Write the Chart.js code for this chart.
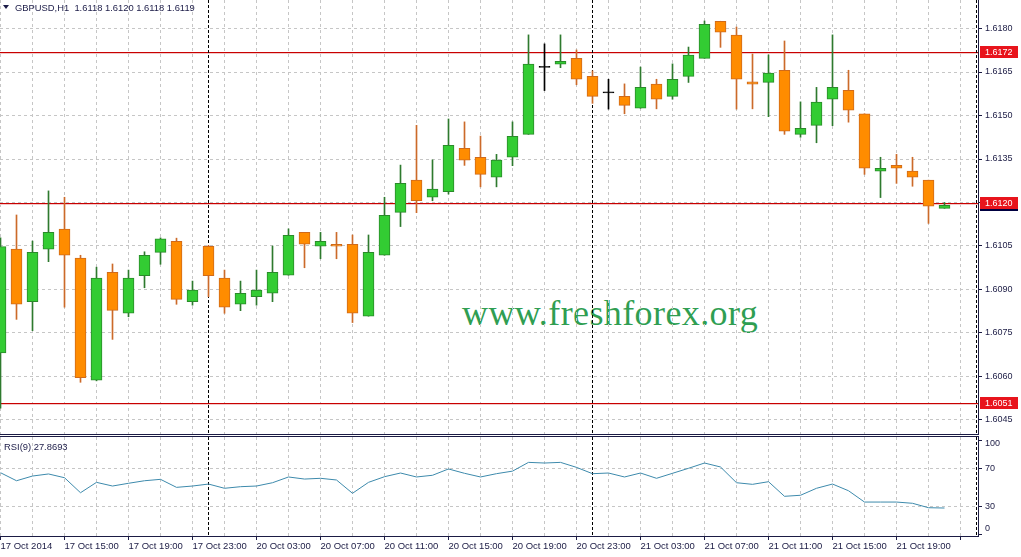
<!DOCTYPE html>
<html>
<head>
<meta charset="utf-8">
<script src="https://cdn.jsdelivr.net/npm/chart.js@4.4.0/dist/chart.umd.min.js"></script>
<style>
html,body{margin:0;padding:0;background:#fff;}
#wrap{position:relative;width:1021px;height:557px;overflow:hidden;background:#fff;}
canvas{position:absolute;left:0;z-index:1;}
#c1{top:0;}
#c2{top:436px;}
.lbl{position:absolute;z-index:2;font-family:"Liberation Sans",Arial,sans-serif;font-size:9.4px;line-height:9px;color:#1c1c48;white-space:nowrap;}
#tri{position:absolute;z-index:2;left:3px;top:5px;width:0;height:0;border-left:3px solid transparent;border-right:3px solid transparent;border-top:4px solid #1c1c48;}
#wm{position:absolute;z-index:0;left:462px;top:295px;font-family:"Liberation Serif","Times New Roman",serif;font-size:36px;line-height:36px;letter-spacing:0.4px;color:#2f9e52;white-space:nowrap;}
</style>
</head>
<body>
<div id="wrap">
  <div id="wm">www.freshforex.org</div>
  <canvas id="c1" width="1021" height="435"></canvas>
  <canvas id="c2" width="1021" height="121"></canvas>
  <div id="tri"></div>
  <div class="lbl" style="left:15px;top:3px;">GBPUSD,H1&nbsp; 1.6118 1.6120 1.6118 1.6119</div>
  <div class="lbl" style="left:4px;top:442px;">RSI(9) 27.8693</div>
</div>
<script>
// ---------- data ----------
const tickLabels = ["17 Oct 2014","17 Oct 15:00","17 Oct 19:00","17 Oct 23:00","20 Oct 03:00","20 Oct 07:00","20 Oct 11:00","20 Oct 15:00","20 Oct 19:00","20 Oct 23:00","21 Oct 03:00","21 Oct 07:00","21 Oct 11:00","21 Oct 15:00","21 Oct 19:00"];
const opens  = [1.60681,1.61039,1.60858,1.61039,1.61108,1.61008,1.60587,1.60959,1.60818,1.60948,1.61028,1.61066,1.60858,1.61049,1.60939,1.60849,1.60875,1.60887,1.60949,1.61097,1.61049,1.61056,1.61056,1.60808,1.61018,1.61166,1.61277,1.61218,1.61237,1.61387,1.61356,1.61287,1.61356,1.61435,1.61666,1.61677,1.61697,1.61635,1.61578,1.61566,1.61525,1.61608,1.61566,1.61635,1.61697,1.61825,1.61777,1.61616,1.61614,1.61656,1.61435,1.61466,1.61556,1.61587,1.61506,1.61308,1.61328,1.61308,1.61277,1.61180];
const highs  = [1.61078,1.61157,1.61067,1.61240,1.61218,1.61018,1.60977,1.60988,1.60967,1.61030,1.61078,1.61077,1.60929,1.61052,1.60967,1.60929,1.60967,1.61050,1.61109,1.61097,1.61097,1.61097,1.61088,1.61088,1.61218,1.61329,1.61466,1.61347,1.61488,1.61478,1.61429,1.61366,1.61478,1.61778,1.61747,1.61778,1.61726,1.61654,1.61625,1.61609,1.61667,1.61625,1.61678,1.61736,1.61826,1.61825,1.61805,1.61712,1.61709,1.61757,1.61547,1.61597,1.61778,1.61656,1.61506,1.61356,1.61366,1.61356,1.61277,1.61200];
const lows   = [1.60491,1.60797,1.60758,1.60996,1.60839,1.60580,1.60585,1.60728,1.60806,1.60906,1.60987,1.60849,1.60846,1.60875,1.60818,1.60827,1.60846,1.60858,1.60949,1.60975,1.61006,1.61006,1.60786,1.60808,1.61018,1.61117,1.61165,1.61206,1.61229,1.61328,1.61254,1.61254,1.61327,1.61435,1.61586,1.61665,1.61606,1.61542,1.61522,1.61506,1.61525,1.61523,1.61556,1.61614,1.61697,1.61735,1.61522,1.61523,1.61496,1.61435,1.61425,1.61406,1.61465,1.61477,1.61297,1.61217,1.61266,1.61256,1.61128,1.61180];
const closes = [1.61048,1.60849,1.61028,1.61097,1.61018,1.60596,1.60939,1.60828,1.60939,1.61018,1.61075,1.60866,1.60898,1.60948,1.60839,1.60887,1.60898,1.60959,1.61087,1.61056,1.61066,1.61049,1.60818,1.61028,1.61156,1.61266,1.61206,1.61246,1.61397,1.61346,1.61297,1.61346,1.61428,1.61677,1.61666,1.61687,1.61625,1.61566,1.61578,1.61535,1.61597,1.61556,1.61625,1.61708,1.61814,1.61787,1.61625,1.61608,1.61646,1.61446,1.61456,1.61546,1.61597,1.61518,1.61318,1.61318,1.61318,1.61287,1.61187,1.61190];
const rsi    = [65.3,56.8,61.8,64.0,60.0,44.1,55.1,51.2,54.1,56.8,58.3,49.8,51.2,53.3,48.8,50.5,51.2,54.7,60.8,58.6,59.4,57.6,43.5,55.1,61.1,65.0,60.8,62.6,69.3,64.7,60.8,64.3,67.0,76.3,75.6,76.3,71.0,64.3,65.0,60.8,65.0,59.4,64.7,70.0,75.6,71.4,54.7,53.0,55.8,40.3,41.4,48.8,53.3,46.2,34.2,34.2,34.2,32.9,28.2,27.87];
const priceTicks = [1.6045,1.6060,1.6075,1.6090,1.6105,1.6120,1.6135,1.6150,1.6165,1.6180];
const rsiTicks = [0,30,70,100];
const levels = [1.6172,1.6120,1.6051];
const separators = [13,37];
const lastPrice = 1.6119;

// ---------- style ----------
const FONT_FAMILY = '"Liberation Sans", Arial, sans-serif';
const AXIS = '#1b1b44';
const GRID = '#c6c6c6';
const X_MIN = -0.03125, X_MAX = X_MIN + 978/16;
const Y_MIN = 1.6040172, Y_MAX = 1.6189828;

const dir = closes.map((c,i)=> c>opens[i] ? 1 : (c<opens[i] ? -1 : 0));
const bodyFill   = dir.map(d=> d>0 ? '#33cc33' : d<0 ? '#ff8c00' : '#000000');
const bodyBorder = dir.map(d=> d>0 ? '#2a8a2a' : d<0 ? '#d06a1a' : '#000000');
const wickColor  = dir.map(d=> d>0 ? '#2e7a2e' : d<0 ? '#cc6a2a' : '#000000');

const fixY = w => s => { s.width = w; s.paddingTop = 0; s.paddingBottom = 0; };
const fixX = h => s => { s.height = h; s.paddingLeft = 0; s.paddingRight = 0; };
const evenTicks = s => { const t=[]; for(let v=0; v<=60; v+=2) t.push({value:v}); s.ticks = t; };

function drawSeparators(chart){
  const {ctx, chartArea:a, scales:{x}} = chart;
  ctx.save();
  ctx.strokeStyle = '#000'; ctx.lineWidth = 1; ctx.setLineDash([3,2]);
  separators.forEach(i=>{
    const px = Math.round(x.getPixelForValue(i)-0.5)+0.5;
    ctx.beginPath(); ctx.moveTo(px,a.top); ctx.lineTo(px,a.bottom); ctx.stroke();
  });
  ctx.beginPath(); ctx.moveTo(a.right-1.5,a.top); ctx.lineTo(a.right-1.5,a.bottom); ctx.stroke();
  ctx.restore();
}

const priceDecor = {
  id:'priceDecor',
  beforeDatasetsDraw(chart){
    const {ctx, chartArea:a, scales:{y}} = chart;
    ctx.save();
    levels.forEach(v=>{
      const py = Math.round(y.getPixelForValue(v));
      ctx.fillStyle = '#f3c8c8'; ctx.fillRect(a.left, py+1, a.right-a.left, 1);
      ctx.fillStyle = '#c80000'; ctx.fillRect(a.left, py, a.right-a.left, 1);
    });
    ctx.restore();
    drawSeparators(chart);
  },
  afterDraw(chart){
    const {ctx, chartArea:a, scales:{y}} = chart;
    ctx.save();
    ctx.fillStyle = AXIS;
    ctx.fillRect(a.right, a.top, 1, a.bottom-a.top+1);
    ctx.fillRect(a.left, a.bottom, a.right-a.left, 1);
    ctx.font = '9px ' + FONT_FAMILY; ctx.textBaseline = 'middle';
    const lp = Math.round(y.getPixelForValue(lastPrice));
    ctx.fillStyle = '#000040'; ctx.fillRect(a.right+2, lp-6, 38, 12);
    ctx.fillStyle = '#fff'; ctx.fillText(lastPrice.toFixed(4), a.right+7, lp);
    levels.forEach(v=>{
      const py = Math.round(y.getPixelForValue(v));
      ctx.fillStyle = '#e8141c'; ctx.fillRect(a.right+2, py-6, 38, 12);
      ctx.fillStyle = '#ffffff'; ctx.fillText(v.toFixed(4), a.right+7, py+0.5);
    });
    ctx.restore();
  }
};

const rsiDecor = {
  id:'rsiDecor',
  beforeDatasetsDraw(chart){ drawSeparators(chart); },
  afterDraw(chart){
    const {ctx, chartArea:a, scales:{y}} = chart;
    ctx.save();
    ctx.fillStyle = AXIS;
    ctx.fillRect(a.left, 0, a.right-a.left+1, 1);
    ctx.fillRect(a.right, 0, 1, a.bottom-a.top+2);
    ctx.fillRect(a.left, a.bottom, a.right-a.left+1, 1);
    // RSI scale labels, kept inside the panel like the terminal does
    ctx.font = '9px ' + FONT_FAMILY; ctx.textBaseline = 'middle'; ctx.textAlign = 'left';
    rsiTicks.forEach(v=>{
      const py = Math.min(Math.max(y.getPixelForValue(v), a.top+7), a.bottom-7);
      ctx.fillText(String(v), a.right+7, py);
    });
    ctx.restore();
  }
};

// ---------- price chart ----------
new Chart(document.getElementById('c1'), {
  type:'bar',
  data:{datasets:[
    {label:'wicks', data: lows.map((l,i)=>({x:i, y:[l, highs[i]]})),
     backgroundColor: wickColor, borderWidth:0, barThickness:1, grouped:false, order:2, minBarLength:1},
    {label:'bodies', data: opens.map((o,i)=>({x:i, y:[o, closes[i]]})),
     backgroundColor: bodyFill, borderColor: bodyBorder, borderWidth:1, borderSkipped:false,
     barThickness:11, grouped:false, order:1, minBarLength:1}
  ]},
  options:{
    responsive:false, animation:false, devicePixelRatio:1,
    layout:{padding:{top:0,left:0,right:0,bottom:1}},
    plugins:{legend:{display:false}, tooltip:{enabled:false}},
    scales:{
      x:{type:'linear', min:X_MIN, max:X_MAX, offset:false,
         afterBuildTicks: evenTicks, afterFit: fixX(0),
         ticks:{display:false},
         grid:{offset:false, color:GRID, lineWidth:1, drawTicks:false},
         border:{display:false, dash:[3,3]}},
      y:{type:'linear', position:'right', min:Y_MIN, max:Y_MAX, beginAtZero:false,
         afterBuildTicks: s => { s.ticks = priceTicks.map(v=>({value:v})); },
         afterFit: fixY(43),
         ticks:{color:AXIS, font:{family:FONT_FAMILY, size:9}, padding:3, callback:v=>Number(v).toFixed(4)},
         grid:{color:GRID, lineWidth:1, tickColor:AXIS, tickLength:4, tickBorderDash:[]},
         border:{display:false, dash:[3,3]}}
    }
  },
  plugins:[priceDecor]
});

// ---------- RSI chart ----------
new Chart(document.getElementById('c2'), {
  type:'line',
  data:{datasets:[
    {label:'RSI(9)', data: rsi.map((v,i)=>({x:i, y:v})), borderColor:'#3d8aac', borderWidth:1,
     pointRadius:0, tension:0, fill:false}
  ]},
  options:{
    responsive:false, animation:false, devicePixelRatio:1,
    layout:{padding:{top:1,left:0,right:0,bottom:0}},
    plugins:{legend:{display:false}, tooltip:{enabled:false}},
    scales:{
      x:{type:'linear', min:X_MIN, max:X_MAX, offset:false,
         afterBuildTicks: evenTicks, afterFit: fixX(21),
         ticks:{color:AXIS, font:{family:FONT_FAMILY, size:9.5}, align:'start', padding:1,
                autoSkip:false, maxRotation:0, minRotation:0,
                callback: v => (v % 4 === 0 && tickLabels[v/4] !== undefined) ? tickLabels[v/4] : ''},
         grid:{offset:false, color:GRID, lineWidth:1, tickLength:4, tickBorderDash:[],
               tickColor: c => (c.tick && c.tick.value % 4 === 0) ? AXIS : 'rgba(0,0,0,0)'},
         border:{display:false, dash:[3,3]}},
      y:{type:'linear', position:'right', min:-1.8, max:103.2,
         afterBuildTicks: s => { s.ticks = rsiTicks.map(v=>({value:v})); },
         afterFit: fixY(43),
         ticks:{display:false},
         grid:{color: c => (c.tick && (c.tick.value===30 || c.tick.value===70)) ? GRID : 'rgba(0,0,0,0)',
               lineWidth:1, tickColor:AXIS, tickLength:4, tickBorderDash:[]},
         border:{display:false, dash:[3,3]}}
    }
  },
  plugins:[rsiDecor]
});
</script>
</body>
</html>
